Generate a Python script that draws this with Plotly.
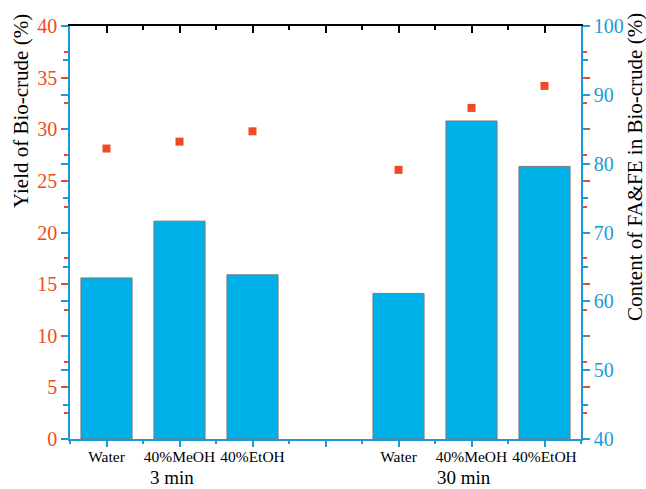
import plotly.graph_objects as go

# Data
positions = [1, 2, 3, 5, 6, 7]
solvents = ["Water", "40%MeOH", "40%EtOH", "Water", "40%MeOH", "40%EtOH"]
groups = ["3 min", "30 min"]
group_pos = [2, 6]
yield_biocrude = [15.6, 21.1, 15.9, 14.1, 30.8, 26.4]        # left axis (%)
content_fafe = [82.2, 83.2, 84.7, 79.1, 88.1, 91.3]          # right axis (%)

BLUE = "#00b0e8"
AXBLUE = "#1c9ad6"
RED = "#ef4b23"
FONT = "Liberation Serif"

fig = go.Figure()
fig.add_trace(go.Bar(
    x=positions, y=yield_biocrude, width=0.7,
    marker=dict(color=BLUE, line=dict(color="#7a7a7a", width=1)),
    xaxis="x", yaxis="y", showlegend=False,
))
fig.add_trace(go.Scatter(
    x=positions, y=content_fafe, mode="markers",
    marker=dict(symbol="square", size=8, color=RED),
    xaxis="x2", yaxis="y2", showlegend=False,
))

fig.update_layout(
    width=646, height=489,
    margin=dict(l=70, r=65, t=26, b=50),
    paper_bgcolor="white", plot_bgcolor="white",
    font=dict(family=FONT, color="black"),
    xaxis=dict(
        range=[0.5, 7.5], tickvals=[1, 2, 3, 4, 5, 6, 7],
        ticktext=solvents[:3] + [""] + solvents[3:],
        ticks="outside", ticklen=6, tickwidth=1.5, tickcolor=AXBLUE,
        showline=True, linecolor=AXBLUE, linewidth=1.5,
        showgrid=False, zeroline=False, ticklabelstandoff=-3,
        tickfont=dict(size=15.5, color="black", family=FONT),
        minor=dict(tickvals=[0.5, 1.5, 2.5, 3.5, 4.5, 5.5, 6.5, 7.5],
                   ticks="outside", ticklen=3, tickcolor=AXBLUE, tickwidth=1.5),
    ),
    xaxis2=dict(
        range=[0.5, 7.5], overlaying="x", side="top", anchor="y",
        tickvals=[1, 2, 3, 4, 5, 6, 7], showticklabels=False,
        ticks="inside", ticklen=7, tickwidth=1.5, tickcolor="black",
        showline=True, linecolor="black", linewidth=1.5,
        showgrid=False, zeroline=False,
        minor=dict(tickvals=[1.5, 2.5, 3.5, 4.5, 5.5, 6.5],
                   ticks="inside", ticklen=4, tickcolor="black", tickwidth=1.5),
    ),
    yaxis=dict(
        range=[0, 40], tickvals=[0, 5, 10, 15, 20, 25, 30, 35, 40],
        ticks="outside", ticklen=7, tickwidth=1.5, tickcolor=RED,
        showline=True, linecolor=AXBLUE, linewidth=1.5, mirror="ticks",
        showgrid=False, zeroline=False,
        tickfont=dict(size=20, color=RED, family=FONT),
        minor=dict(dtick=2.5, tick0=0, ticks="outside", ticklen=4,
                   tickcolor=RED, tickwidth=1.5, showgrid=False),
    ),
    yaxis2=dict(
        range=[40, 100], tickvals=[40, 50, 60, 70, 80, 90, 100],
        overlaying="y", side="right", anchor="x2",
        ticks="outside", ticklen=7, tickwidth=1.5, tickcolor=AXBLUE,
        showline=True, linecolor=AXBLUE, linewidth=1.5, mirror="ticks",
        showgrid=False, zeroline=False,
        tickfont=dict(size=20, color=AXBLUE, family=FONT),
        minor=dict(dtick=5, tick0=40, ticks="outside", ticklen=5,
                   tickcolor=AXBLUE, tickwidth=1.5, showgrid=False),
    ),
    bargap=0.3,
)

annotations = []
for g, p in zip(groups, group_pos):
    annotations.append(dict(
        x=p - 0.1, y=-0.0944, xref="x", yref="paper", text=g, showarrow=False,
        font=dict(size=19, family=FONT, color="black"),
        xanchor="center", yanchor="middle",
    ))
annotations.append(dict(
    x=-0.096, y=0.794, xref="paper", yref="paper", text="Yield of Bio-crude (%)",
    textangle=-90, showarrow=False, font=dict(size=21, family=FONT, color="black"),
    xanchor="center", yanchor="middle",
))
annotations.append(dict(
    x=1.106, y=0.659, xref="paper", yref="paper", text="Content of FA&amp;FE in Bio-crude (%)",
    textangle=-90, showarrow=False, font=dict(size=21, family=FONT, color="black"),
    xanchor="center", yanchor="middle",
))
fig.update_layout(annotations=annotations)

fig.write_html("out.html", config={"displayModeBar": False},
               post_script="document.body.style.margin='0';")
